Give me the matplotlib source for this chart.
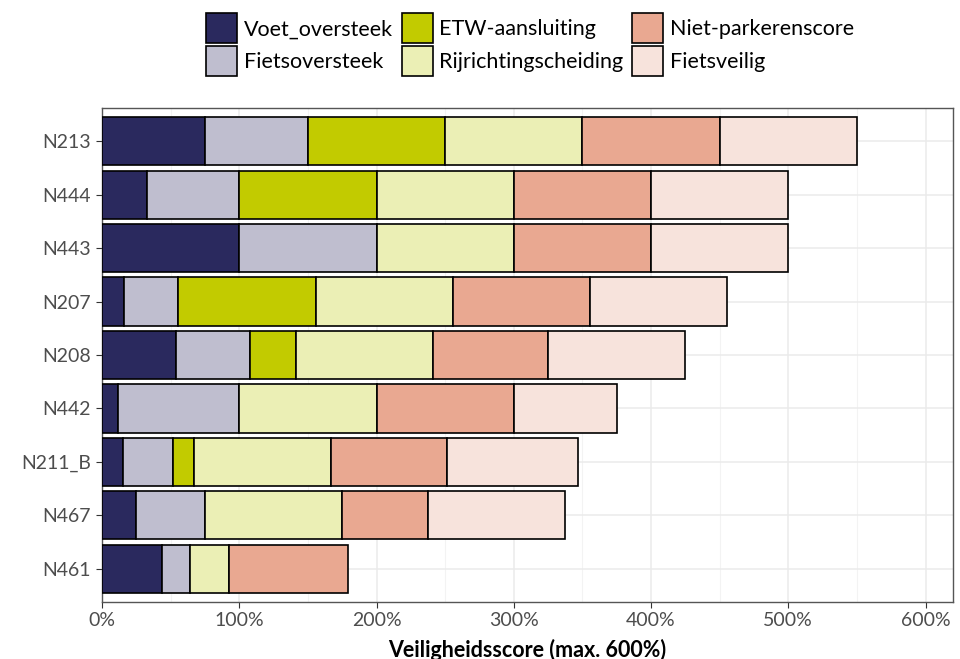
import matplotlib
matplotlib.use("Agg")
import matplotlib.pyplot as plt
import numpy as np
from matplotlib.patches import Patch

plt.rcParams['font.family'] = ['Lato', 'DejaVu Sans']

roads = ["N213", "N444", "N443", "N207", "N208", "N442", "N211_B", "N467", "N461"]
series = ["Voet_oversteek", "Fietsoversteek", "ETW-aansluiting",
          "Rijrichtingscheiding", "Niet-parkerenscore", "Fietsveilig"]
voet   = [75, 33, 100, 16.3, 54, 12, 15.5, 25, 43.7]
fiets  = [75, 67, 100, 39.3, 54, 88, 36, 50, 20.7]
etw    = [100, 100, 0, 100, 33.5, 0, 15.5, 0, 0]
rij    = [100, 100, 100, 100, 100, 100, 100, 100, 28.4]
niet   = [100, 100, 100, 100, 83.6, 100, 84.5, 62.5, 86.2]
fveil  = [100, 100, 100, 100, 100, 75, 95.5, 100, 0]
colors = ["#2a295e", "#bfbecf", "#c2cb00", "#ebefb5", "#e9a891", "#f7e3dc"]

data = [voet, fiets, etw, rij, niet, fveil]

fig = plt.figure(figsize=(9.6, 6.59), dpi=100)
ax = fig.add_axes([0.10625, 0.0865, 0.88646, 0.7496])

y = np.arange(len(roads))[::-1]
left = np.zeros(len(roads))
for vals, col in zip(data, colors):
    v = np.array(vals, dtype=float)
    mask = v > 0
    ax.barh(y[mask], v[mask], left=left[mask], height=0.9, color=col,
            edgecolor="black", linewidth=1.2, zorder=3)
    left += v

ax.set_xlim(0, 620)
ax.set_ylim(-0.62, len(roads) - 1 + 0.62)
ax.set_yticks(y)
ax.set_yticklabels(roads)
xt = np.arange(0, 601, 100)
ax.set_xticks(xt)
ax.set_xticklabels([f"{v}%" for v in xt])
ax.set_xticks(np.arange(50, 601, 100), minor=True)
ax.grid(True, which="major", color="#ebebeb", linewidth=1.1, zorder=0)
ax.grid(True, which="minor", axis="x", color="#f3f3f3", linewidth=0.8, zorder=0)
ax.tick_params(axis="both", which="major", labelsize=14, labelcolor="#4d4d4d",
               color="#333333", length=4)
ax.tick_params(axis="y", which="major", pad=4)
ax.tick_params(axis="x", which="major", pad=3)
ax.tick_params(axis="both", which="minor", length=0)
for s in ax.spines.values():
    s.set_color("#555555")
    s.set_linewidth(1.0)
ax.set_xlabel("Veiligheidsscore (max. 600%)", fontsize=15.5, fontweight="bold",
              labelpad=7)

handles = [Patch(facecolor=c, edgecolor="black", linewidth=1.2, label=s)
           for s, c in zip(series, colors)]
fig.legend(handles=handles, loc="upper center", bbox_to_anchor=(0.552, 1.009),
           ncol=3, frameon=False, fontsize=15.5, handlelength=1.45,
           handleheight=1.75, handletextpad=0.3, columnspacing=0.4,
           labelspacing=0.15)

fig.savefig("out.png", dpi=100)
